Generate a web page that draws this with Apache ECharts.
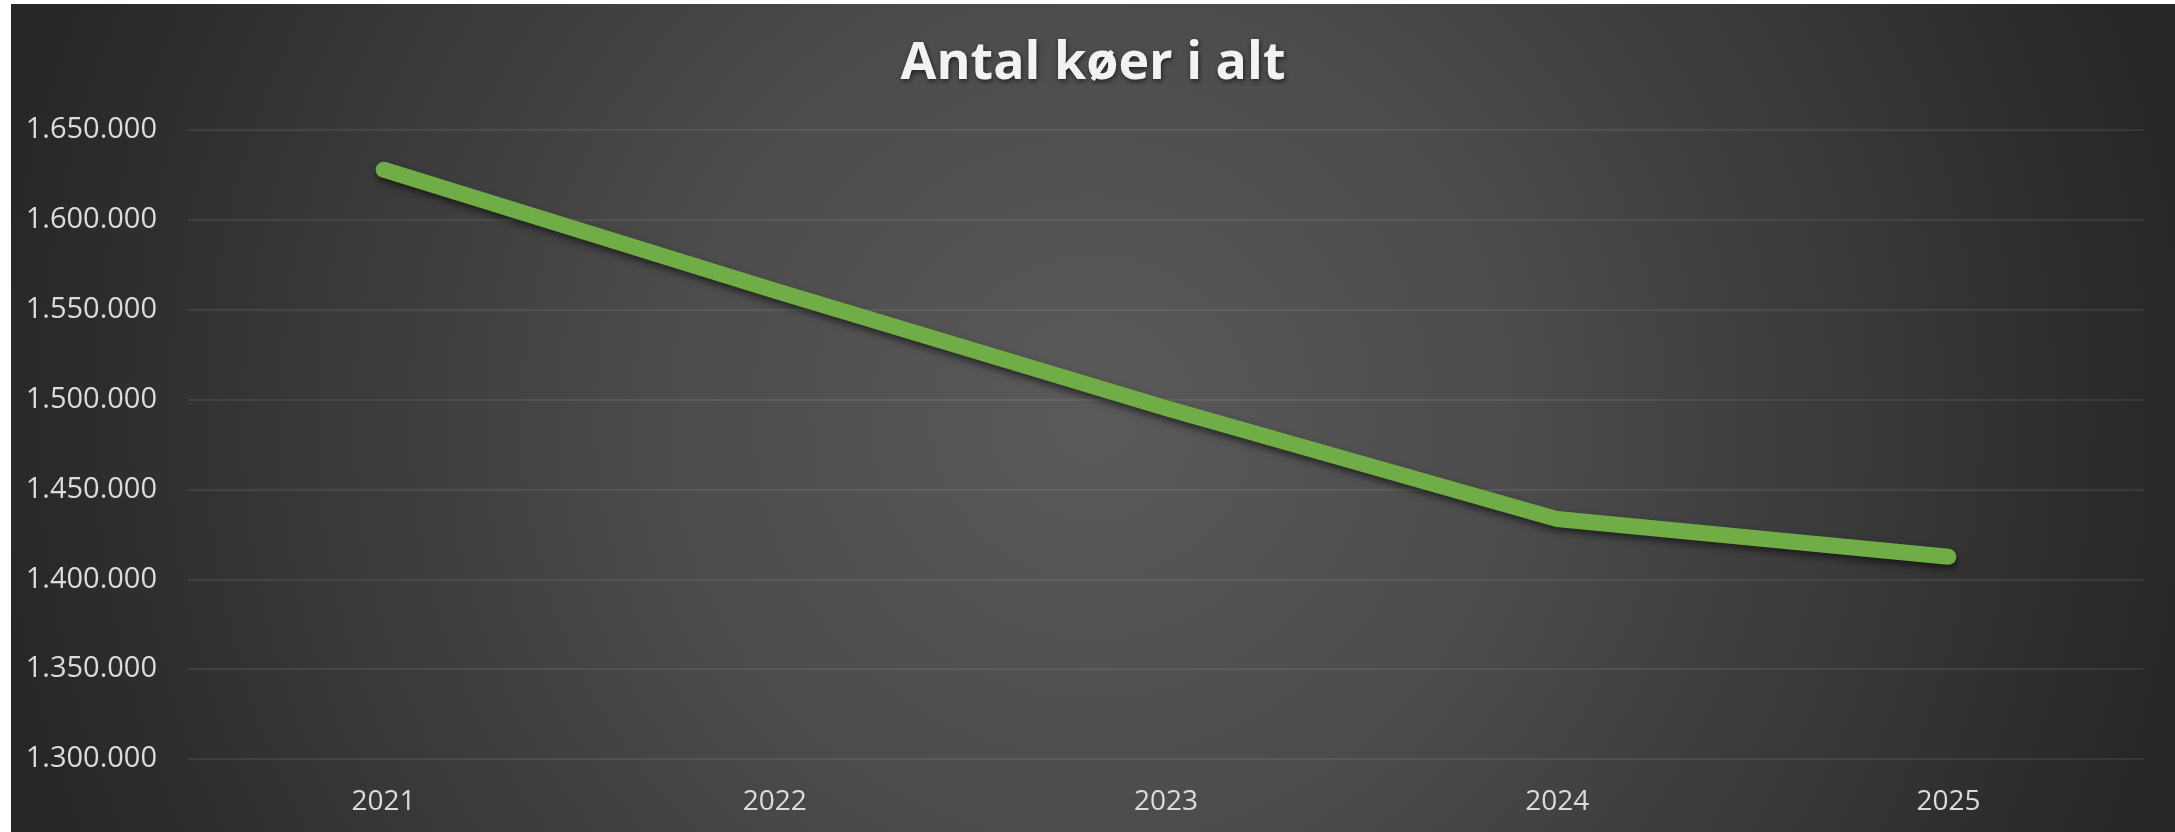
<!DOCTYPE html>
<html>
<head>
<meta charset="utf-8">
<script src="https://cdn.jsdelivr.net/npm/echarts@6/dist/echarts.min.js"></script>
<style>
    html, body {
        margin: 0;
        padding: 0;
        background: #ffffff;
    }
    #chart {
        position: absolute;
        left: 11px;
        top: 4px;
        width: 2164px;
        height: 828px;
        background: radial-gradient(circle 1120px at 50% 50%, #5a5a5a 0%, #4c4c4c 37%, #262626 100%);
    }
</style>
</head>
<body>
<div id="chart"></div>
<script>
// årstal og antal køer
var years = ['2021', '2022', '2023', '2024', '2025'];
var koer = [1627900, 1560600, 1495200, 1433500, 1412500];

// dansk tusindtalsseparator
function formatDK(v) {
    return String(v).replace(/\B(?=(\d{3})+(?!\d))/g, '.');
}

var myChart = echarts.init(document.getElementById('chart'));

var option = {
    backgroundColor: 'transparent',
    animation: false,
    title: {
        text: 'Antal køer i alt',
        left: 'center',
        top: 29,
        textStyle: {
            color: '#f2f2f2',
            fontFamily: 'Open Sans',
            fontWeight: 'bold',
            fontSize: 52,
            textShadowColor: 'rgba(0,0,0,0.6)',
            textShadowBlur: 5,
            textShadowOffsetX: 1,
            textShadowOffsetY: 2
        }
    },
    grid: {
        left: 177,
        right: 31,
        top: 126,
        bottom: 73,
        containLabel: false
    },
    xAxis: {
        type: 'category',
        data: years,
        boundaryGap: true,
        axisLine: {show: false},
        axisTick: {show: false},
        axisLabel: {
            color: '#dcdcdc',
            fontFamily: 'Open Sans',
            fontSize: 28,
            margin: 29
        }
    },
    yAxis: {
        type: 'value',
        min: 1300000,
        max: 1650000,
        interval: 50000,
        axisLine: {show: false},
        axisTick: {show: false},
        splitLine: {
            lineStyle: {
                color: 'rgba(255,255,255,0.1)',
                width: 1.5
            }
        },
        axisLabel: {
            color: '#dcdcdc',
            fontFamily: 'Open Sans',
            fontSize: 29,
            margin: 31,
            formatter: formatDK
        }
    },
    series: [{
        name: 'Antal køer',
        type: 'line',
        data: koer,
        showSymbol: false,
        symbol: 'none',
        lineStyle: {
            color: '#70ad47',
            width: 16,
            cap: 'round',
            join: 'round',
            shadowColor: 'rgba(0,0,0,0.55)',
            shadowBlur: 7,
            shadowOffsetX: 1,
            shadowOffsetY: 4
        }
    }]
};

myChart.setOption(option);
</script>
</body>
</html>
